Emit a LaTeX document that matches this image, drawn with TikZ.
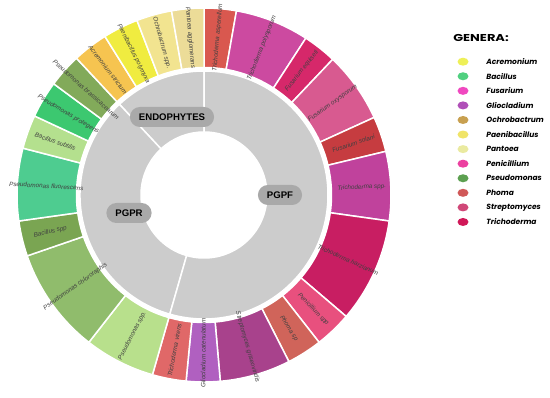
\documentclass[tikz,border=0pt]{standalone}
\usepackage{fontspec}
\setmainfont{Liberation Sans}
\newfontfamily\legfont{Poppins}
\usepackage{xcolor}
\usetikzlibrary{positioning, shapes.geometric}
\definecolor{ringgray}{HTML}{CCCCCC}
\definecolor{pillgray}{HTML}{A9A9A9}
% segment colours
\definecolor{sAsper}{HTML}{D9584F}
\definecolor{sPolys}{HTML}{CC4AA0}
\definecolor{sEquis}{HTML}{D6286A}
\definecolor{sOxysp}{HTML}{D85A90}
\definecolor{sSolan}{HTML}{C63C40}
\definecolor{sTrspp}{HTML}{C0429C}
\definecolor{sHarzi}{HTML}{C81E62}
\definecolor{sPenic}{HTML}{E8507E}
\definecolor{sPhoma}{HTML}{D0645A}
\definecolor{sStrep}{HTML}{A8428C}
\definecolor{sGlioc}{HTML}{B060C0}
\definecolor{sViren}{HTML}{E06868}
\definecolor{sPsspp}{HTML}{B8E08C}
\definecolor{sChlor}{HTML}{90BC6C}
\definecolor{sBaspp}{HTML}{7AA552}
\definecolor{sFluor}{HTML}{4ECC90}
\definecolor{sSubti}{HTML}{B4E08E}
\definecolor{sProte}{HTML}{3CC870}
\definecolor{sBrass}{HTML}{82AA5A}
\definecolor{sAcrem}{HTML}{F6C450}
\definecolor{sPaeni}{HTML}{F0EC40}
\definecolor{sOchro}{HTML}{F2E490}
\definecolor{sPanto}{HTML}{ECDC98}
% legend colours
\definecolor{gAcrem}{HTML}{EEF058}
\definecolor{gBacil}{HTML}{50D080}
\definecolor{gFusar}{HTML}{F048C0}
\definecolor{gGlioc}{HTML}{B050B8}
\definecolor{gOchro}{HTML}{C8A050}
\definecolor{gPaeni}{HTML}{F0E468}
\definecolor{gPanto}{HTML}{EAEAA0}
\definecolor{gPenic}{HTML}{EC40A0}
\definecolor{gPseud}{HTML}{5CA050}
\definecolor{gPhoma}{HTML}{D05858}
\definecolor{gStrep}{HTML}{D04878}
\definecolor{gTrich}{HTML}{D01858}

\tikzset{
    ringlabel/.style={font=\itshape\fontsize{6.3}{7}\selectfont, text=black!75, inner sep=0pt},
    groupbox/.style={fill=pillgray, rounded corners=10pt, minimum height=20pt, inner xsep=9pt, inner ysep=0pt, font=\bfseries\fontsize{9.6}{10}\selectfont},
    legdot/.style={ellipse, minimum width=11pt, minimum height=8pt, inner sep=0pt},
    legtext/.style={font=\legfont\bfseries\itshape\fontsize{7.5}{9}\selectfont, inner sep=0pt, anchor=west}
}

\begin{document}
\begin{tikzpicture}[x=1pt, y=1pt]
        \useasboundingbox (0,0) rectangle (550,398);
        \fill[white] (0,0) rectangle (550,398);

        % donut
        \begin{scope}[shift={(204,203)}]
            % inner ring
            \foreach \a/\b in {90/133, 133/254, -106/90}
                \fill[ringgray, draw=white, line width=1.5pt] (\a:63) arc[start angle=\a, end angle=\b, radius=63pt] -- (\b:124) arc[start angle=\b, end angle=\a, radius=124pt] -- cycle;

            % outer ring
            \foreach \a/\b/\col/\lab [count=\i] in {
                80/90/sAsper/Trichoderma asperellum,
                57/80/sPolys/Trichoderma polysporum,
                46.5/57/sEquis/Fusarium equiseti,
                24.5/46.5/sOxysp/Fusarium oxysporum,
                13.5/24.5/sSolan/Fusarium solani,
                -8/13.5/sTrspp/Trichoderma spp.,
                -40.5/-8/sHarzi/Trichoderma harzianum,
                -52/-40.5/sPenic/Penicillium spp,
                -63/-52/sPhoma/Phoma sp,
                -85/-63/sStrep/Streptomyces griseoviridis,
                -95.5/-85/sGlioc/Gliocladium catenulatum,
                -106/-95.5/sViren/Trichoderma virens,
                -128/-106/sPsspp/Pseudomonas spp.,
                -161/-128/sChlor/Pseudomonas chlororaphis,
                -172/-161/sBaspp/Bacillus spp,
                165.5/188/sFluor/Pseudomonas fluorescens,
                155/165.5/sSubti/Bacillus subtilis,
                143.5/155/sProte/Pseudomonas protegens,
                133/143.5/sBrass/Pseudomonas brassicacearum,
                122/133/sAcrem/Acremonium strictum,
                111/122/sPaeni/Paenibacillus polymyxa,
                100/111/sOchro/Ochrobactrum spp.,
                90/100/sPanto/Pantoea agglomerans} {
                \fill[\col, draw=white, line width=1.5pt] (\a:127.5) arc[start angle=\a, end angle=\b, radius=127.5pt] -- (\b:187) arc[start angle=\b, end angle=\a, radius=187pt] -- cycle;
                \pgfmathsetmacro\mid{(\a+\b)/2}
                \pgfmathsetmacro\rot{ifthenelse(abs(\mid)>90, \mid-180, \mid)}
                \node[ringlabel, rotate=\rot] (seg\i) at (\mid:158) {\lab};
            }
        \end{scope}

        % group labels
        \node[groupbox] (endo) at (172,281) {ENDOPHYTES};
        \node[groupbox] (pgpf) at (280,203) {PGPF};
        \node[groupbox] (pgpr) at (129,185) {PGPR};

        % legend
        \node[anchor=west, inner sep=0pt, font=\legfont\bfseries\fontsize{10}{12}\selectfont, xscale=1.3, transform shape] (genera) at (453,360) {GENERA:};
        \foreach \g/\c [count=\i] in {Acremonium/gAcrem, Bacillus/gBacil, Fusarium/gFusar, Gliocladium/gGlioc, Ochrobactrum/gOchro, Paenibacillus/gPaeni, Pantoea/gPanto, Penicillium/gPenic, Pseudomonas/gPseud, Phoma/gPhoma, Streptomyces/gStrep, Trichoderma/gTrich} {
            \node[legdot, fill=\c] (dot\i) at (463, {336.3-(\i-1)*14.57}) {};
            \node[legtext, right=17.5pt of dot\i] (gen\i) {\g};
        }
\end{tikzpicture}
\end{document}
